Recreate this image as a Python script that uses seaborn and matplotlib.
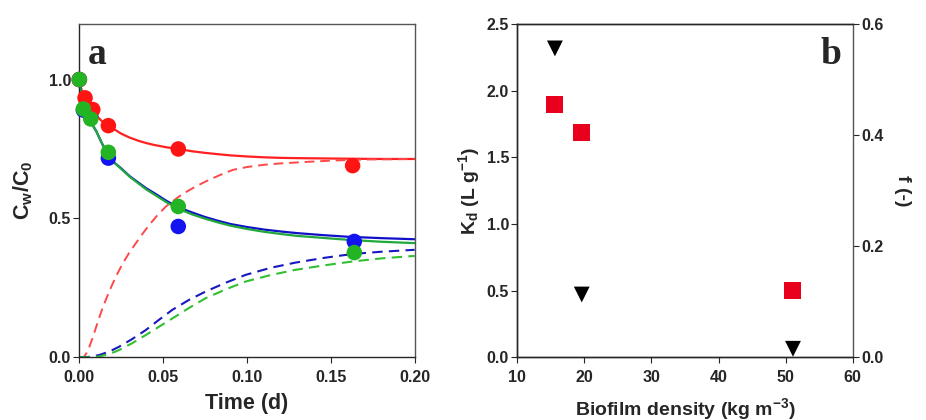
import numpy as np
import pandas as pd
import matplotlib
matplotlib.use("Agg")
import matplotlib.pyplot as plt
import seaborn as sns

# Panel a: measured points (time in d, Cw/C0)
t_red = [0.0, 0.0034, 0.008, 0.0173, 0.059, 0.163]
c_red = [1.0, 0.934, 0.892, 0.834, 0.750, 0.690]
t_blue = [0.0, 0.0024, 0.0068, 0.0173, 0.059, 0.164]
c_blue = [1.0, 0.890, 0.868, 0.717, 0.471, 0.417]
t_green = [0.0, 0.0024, 0.0068, 0.0173, 0.059, 0.164]
c_green = [1.0, 0.894, 0.858, 0.738, 0.543, 0.377]

# Panel a: model curves
t_fit = [0.0, 0.001, 0.002, 0.0035, 0.005, 0.0075, 0.01, 0.0135, 0.017, 0.021, 0.025, 0.03,
         0.035, 0.04, 0.045, 0.052, 0.059, 0.067, 0.075, 0.083, 0.09, 0.1, 0.11, 0.12, 0.13,
         0.145, 0.16, 0.18, 0.2]
red_solid = [1.0, 0.97, 0.95, 0.928, 0.91, 0.888, 0.87, 0.85, 0.835, 0.82, 0.805, 0.791,
             0.780, 0.771, 0.764, 0.756, 0.750, 0.742, 0.736, 0.731, 0.727, 0.723, 0.720, 0.718,
             0.717, 0.716, 0.715, 0.714, 0.714]
blue_solid = [1.0, 0.955, 0.92, 0.89, 0.87, 0.84, 0.815, 0.77, 0.73, 0.70, 0.68, 0.652,
              0.630, 0.608, 0.590, 0.563, 0.540, 0.522, 0.505, 0.491, 0.480, 0.469, 0.460, 0.453,
              0.447, 0.440, 0.434, 0.429, 0.425]
green_solid = [1.0, 0.955, 0.92, 0.89, 0.87, 0.84, 0.815, 0.77, 0.73, 0.70, 0.678, 0.650,
               0.627, 0.604, 0.585, 0.558, 0.535, 0.515, 0.499, 0.485, 0.474, 0.462, 0.452, 0.444,
               0.437, 0.430, 0.423, 0.416, 0.411]

t_dash_red = [0.0, 0.0015, 0.0028, 0.005, 0.0078, 0.0105, 0.0137, 0.0167, 0.0197, 0.0227,
              0.0257, 0.0296, 0.0336, 0.0376, 0.0416, 0.0465, 0.0515, 0.0555, 0.0595, 0.0645,
              0.0694, 0.0774, 0.085, 0.0917, 0.1, 0.11, 0.12, 0.134, 0.15, 0.17, 0.2]
red_dash = [0.0, 0.0, 0.002, 0.022, 0.068, 0.118, 0.175, 0.221, 0.263, 0.301,
            0.336, 0.375, 0.410, 0.444, 0.476, 0.511, 0.542, 0.561, 0.579, 0.598,
            0.615, 0.639, 0.659, 0.675, 0.685, 0.693, 0.698, 0.703, 0.708, 0.712, 0.714]

t_dash_bg = [0.0, 0.005, 0.0118, 0.018, 0.0237, 0.0316, 0.0396, 0.0475, 0.0555, 0.0655,
             0.0754, 0.0875, 0.0993, 0.114, 0.129, 0.146, 0.163, 0.18, 0.2]
blue_dash = [0.0, 0.001, 0.008, 0.021, 0.038, 0.066, 0.098, 0.135, 0.171, 0.207,
             0.237, 0.269, 0.297, 0.322, 0.341, 0.358, 0.372, 0.380, 0.387]
green_dash = [0.0, 0.0, 0.003, 0.012, 0.026, 0.051, 0.080, 0.110, 0.140, 0.178,
              0.213, 0.245, 0.273, 0.296, 0.315, 0.331, 0.345, 0.356, 0.365]

# Panel b
density_kd = [15.6, 19.6, 51.1]
kd = [1.898, 1.688, 0.500]
density_f = [15.6, 19.6, 51.1]
f_frac = [0.556, 0.113, 0.0153]

RED = "#ff1414"
BLUE = "#1414f0"
GREEN = "#22b422"
TICK_FS = 11.5

sns.set_style("ticks")
plt.rcParams["font.family"] = ["Liberation Sans", "DejaVu Sans"]
plt.rcParams["font.weight"] = "bold"
plt.rcParams["axes.labelweight"] = "bold"
plt.rcParams["mathtext.default"] = "regular"
plt.rcParams["xtick.major.size"] = 4
plt.rcParams["ytick.major.size"] = 4
plt.rcParams["axes.linewidth"] = 1.0

fig = plt.figure(figsize=(9.26, 4.2), dpi=100)
ax1 = fig.add_axes([0.0857, 0.1493, 0.3621, 0.7936])
ax2 = fig.add_axes([0.5587, 0.1493, 0.3621, 0.7936])

# --- panel a ---
for tx, ys, col, ls, lw in [
    (t_fit, red_solid, "#ff2020", "-", 1.6),
    (t_fit, blue_solid, "#1010c8", "-", 1.6),
    (t_fit, green_solid, "#20a83c", "-", 1.6),
    (t_dash_red, red_dash, "#ff4848", (0, (5, 3)), 1.4),
    (t_dash_bg, blue_dash, "#1818c0", (0, (5, 3)), 1.5),
    (t_dash_bg, green_dash, "#30c030", (0, (5, 3)), 1.5),
]:
    sns.lineplot(x=tx, y=ys, ax=ax1, color=col, linestyle=ls, linewidth=lw,
                 estimator=None, sort=False, zorder=2)

for tx, cy, col in [(t_blue, c_blue, BLUE), (t_red, c_red, RED), (t_green, c_green, GREEN)]:
    sns.scatterplot(x=tx, y=cy, ax=ax1, color=col, s=125, edgecolor="none",
                    zorder=3, clip_on=False)

ax1.set_xlim(0, 0.2)
ax1.set_ylim(0, 1.2)
ax1.set_xticks([0.0, 0.05, 0.10, 0.15, 0.20])
ax1.set_xticklabels(["0.00", "0.05", "0.10", "0.15", "0.20"], fontweight="bold", fontsize=TICK_FS)
ax1.set_yticks([0.0, 0.5, 1.0])
ax1.set_yticklabels(["0.0", "0.5", "1.0"], fontweight="bold", fontsize=TICK_FS)
ax1.tick_params(axis="x", direction="out", top=False, pad=5)
ax1.tick_params(axis="y", direction="out", right=False, pad=2)
ax1.set_xlabel("Time (d)", fontsize=15.5, labelpad=6)
ax1.set_ylabel(r"C$_{w}$/C$_{0}$", fontsize=15.5, labelpad=10)
for side in ["top", "right"]:
    ax1.spines[side].set_visible(True)
    ax1.spines[side].set_color("#555555")
ax1.text(0.025, 0.96, "a", transform=ax1.transAxes, fontsize=27, fontweight="bold",
         family="Liberation Serif", va="top", ha="left")

# --- panel b ---
ax3 = ax2.twinx()
sns.scatterplot(x=density_kd, y=kd, ax=ax2, color="#e8001c", marker="s", s=150,
                edgecolor="none", zorder=3)
sns.scatterplot(x=density_f, y=f_frac, ax=ax3, color="black", marker="v", s=130,
                edgecolor="none", zorder=3)

ax2.set_xlim(10, 60)
ax2.set_ylim(0, 2.5)
ax3.set_ylim(0, 0.6)
ax2.set_xticks([10, 20, 30, 40, 50, 60])
ax2.set_xticklabels(["10", "20", "30", "40", "50", "60"], fontweight="bold", fontsize=TICK_FS)
ax2.set_yticks([0.0, 0.5, 1.0, 1.5, 2.0, 2.5])
ax2.set_yticklabels(["0.0", "0.5", "1.0", "1.5", "2.0", "2.5"], fontweight="bold", fontsize=TICK_FS)
ax3.set_yticks([0.0, 0.2, 0.4, 0.6])
ax3.set_yticklabels(["0.0", "0.2", "0.4", "0.6"], fontweight="bold", fontsize=TICK_FS)
ax2.tick_params(axis="x", direction="out", top=False, pad=5)
ax2.tick_params(axis="y", direction="out", right=False, pad=2)
ax3.tick_params(direction="out", right=True, left=False, pad=2)
ax2.set_xlabel(r"Biofilm density (kg m$^{-3}$)", fontsize=14, labelpad=8)
ax2.set_ylabel(r"K$_{d}$ (L g$^{-1}$)", fontsize=14, labelpad=3)
ax3.set_ylabel("f (-)", fontsize=14, rotation=270, labelpad=20)
ax2.spines["top"].set_visible(True)
ax3.spines["top"].set_visible(True)
ax3.spines["right"].set_visible(True)
ax3.spines["right"].set_color("#555555")
ax2.spines["right"].set_visible(False)
ax2.text(0.905, 0.96, "b", transform=ax2.transAxes, fontsize=27, fontweight="bold",
         family="Liberation Serif", va="top", ha="left")

fig.savefig("out.png", dpi=100)
